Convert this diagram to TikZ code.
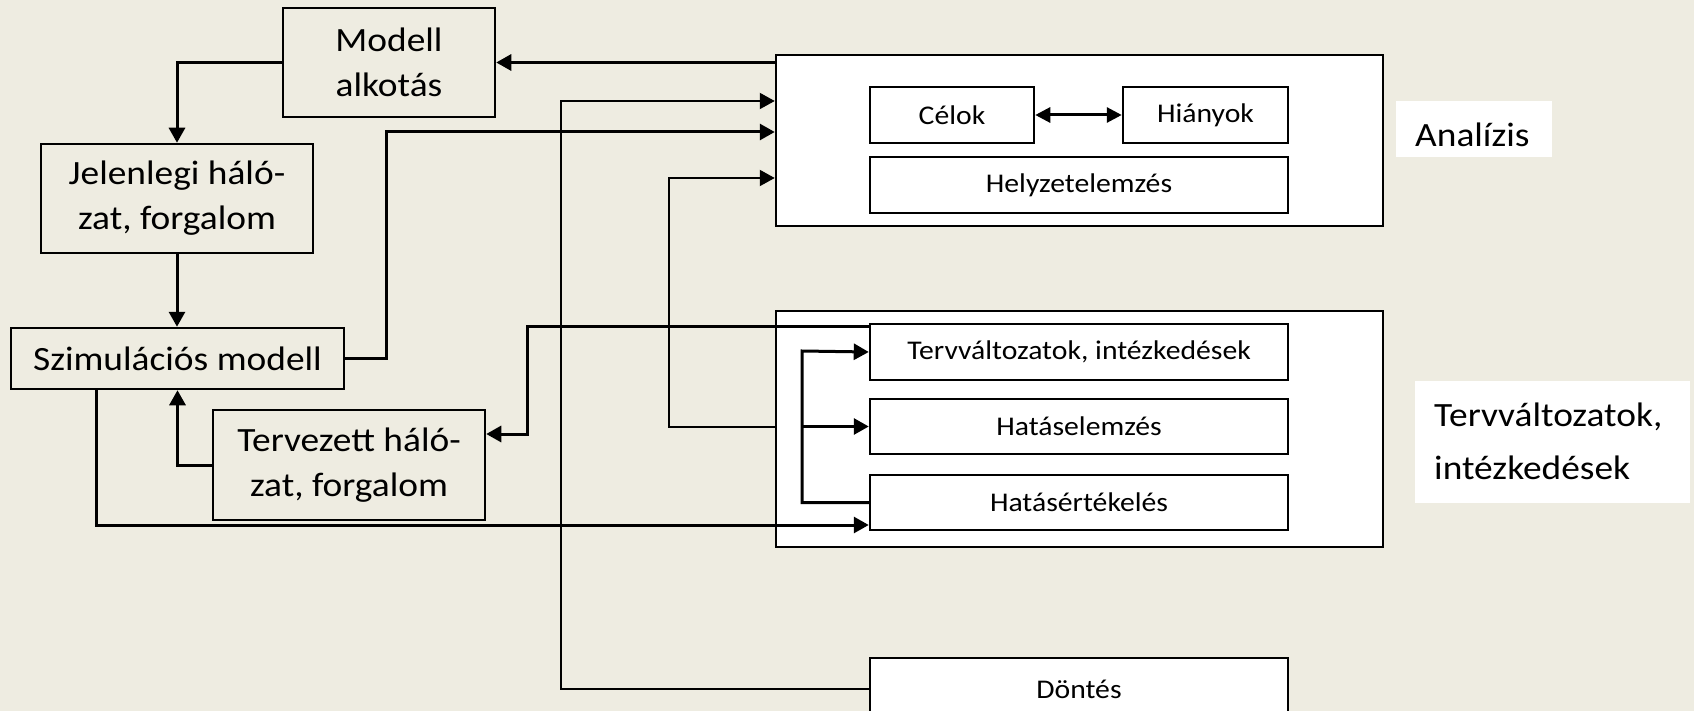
\documentclass[tikz,border=0pt]{standalone}
\usepackage{fontspec}
\setmainfont{Carlito}[FakeStretch=1.1]
\usetikzlibrary{arrows.meta}
\definecolor{paper}{HTML}{EEECE1}
\begin{document}
\begin{tikzpicture}[x=1pt,y=-1pt,
  bigtxt/.style={font=\fontsize{34}{45}\selectfont, align=center},
  smalltxt/.style={font=\fontsize{27}{30}\selectfont},
  leftbox/.style={draw, line width=2.5pt, inner sep=0pt, bigtxt},
  frame/.style={draw, fill=white, line width=2.5pt, inner sep=0pt},
  rightbox/.style={draw, fill=white, line width=2.5pt, inner sep=0pt, smalltxt},
  labbg/.style={fill=white, inner sep=0pt},
  labtxt/.style={font=\fontsize{34}{45}\selectfont, inner sep=0pt},
  tip/.style={-{Triangle[length=15pt,width=16pt]}},
  conn/.style={line width=3pt, tip},
  connthin/.style={line width=2pt, tip},
  both/.style={line width=3pt, {Triangle[length=15pt,width=15pt]}-{Triangle[length=15pt,width=15pt]}}
]
\fill[paper] (0,0) rectangle (1694,711);
\useasboundingbox (0,0) rectangle (1694,711);
\clip (0,0) rectangle (1694,711);

% left column: model chain
\node[leftbox, minimum width=212pt, minimum height=109pt] (ma) at (389,62.5) {Modell\\alkotás};
\node[leftbox, minimum width=272pt, minimum height=109pt] (jh) at (177,198.5) {Jelenlegi háló-\\zat, forgalom};
\node[leftbox, minimum width=333pt, minimum height=61pt] (sm) at (177.5,358.5) {Szimulációs modell};
\node[leftbox, minimum width=272pt, minimum height=110pt] (th) at (349,465) {Tervezett háló-\\zat, forgalom};

% group frames on the right
\node[frame, minimum width=607pt, minimum height=171pt] (an) at (1079.5,140.5) {};
\node[frame, minimum width=607pt, minimum height=236pt] (tv) at (1079.5,429) {};

% side labels
\node[labbg, minimum width=156pt, minimum height=56pt] (anlab) at (1474,129) {};
\node[labtxt, anchor=base west] (antxt) at (1415,147) {Analízis};
\node[labbg, minimum width=275pt, minimum height=122pt] (tvlab) at (1552.5,442) {};
\node[labtxt, anchor=base west] (tvtxta) at (1434,426) {Tervváltozatok,};
\node[labtxt, anchor=base west] (tvtxtb) at (1434,479) {intézkedések};

% bend points
\coordinate (c4) at (386,132);
\coordinate (c5) at (561,101);
\coordinate (c6) at (669,178);
\coordinate (c7) at (527,434);
\coordinate (c9) at (96,525);
\coordinate (c10) at (802,351);

% inner boxes
\node[rightbox, minimum width=164pt, minimum height=56pt] (cel) at (952,115) {Célok};
\node[rightbox, minimum width=165pt, minimum height=56pt] (hia) at (1205.5,115) {Hiányok};
\node[rightbox, minimum width=418pt, minimum height=56pt] (hely) at (1079,185) {Helyzetelemzés};
\node[rightbox, minimum width=418pt, minimum height=56pt] (tvi) at (1079,352) {Tervváltozatok, intézkedések};
\node[rightbox, minimum width=418pt, minimum height=55pt] (hae) at (1079,426.5) {Hatáselemzés};
\node[rightbox, minimum width=418pt, minimum height=55pt] (hat) at (1079,502.5) {Hatásértékelés};
\node[rightbox, minimum width=418pt, minimum height=62pt] (don) at (1079,689) {Döntés};

% connectors
\draw[conn] (an.north west |- ma.east) -- (ma.east);
\draw[conn] (ma.west) -| (jh.north);
\draw[conn] (jh.south) -- (jh.south |- sm.north);
\draw[conn] (sm.east) -| (c4) -- (c4 -| an.west);
\draw[conn] (th.west) -| (sm.south);
\draw[conn] (sm.south -| c9) -- (c9) -- (c9 -| hat.west);
\draw[both] (cel.east) -- (hia.west);
\draw[conn] ([yshift=-4pt]tvi.north west) -| (c7) -- (c7 -| th.east);
\draw[connthin] (don.west) -| (c5) -- (c5 -| an.west);
\draw[connthin] (tv.west |- hae.west) -| (c6) -- (c6 -| an.west);
\draw[conn] (hat.west) -| (c10) -- (tvi.west);
\draw[conn] (c10 |- hae.west) -- (hae.west);
\end{tikzpicture}
\end{document}
